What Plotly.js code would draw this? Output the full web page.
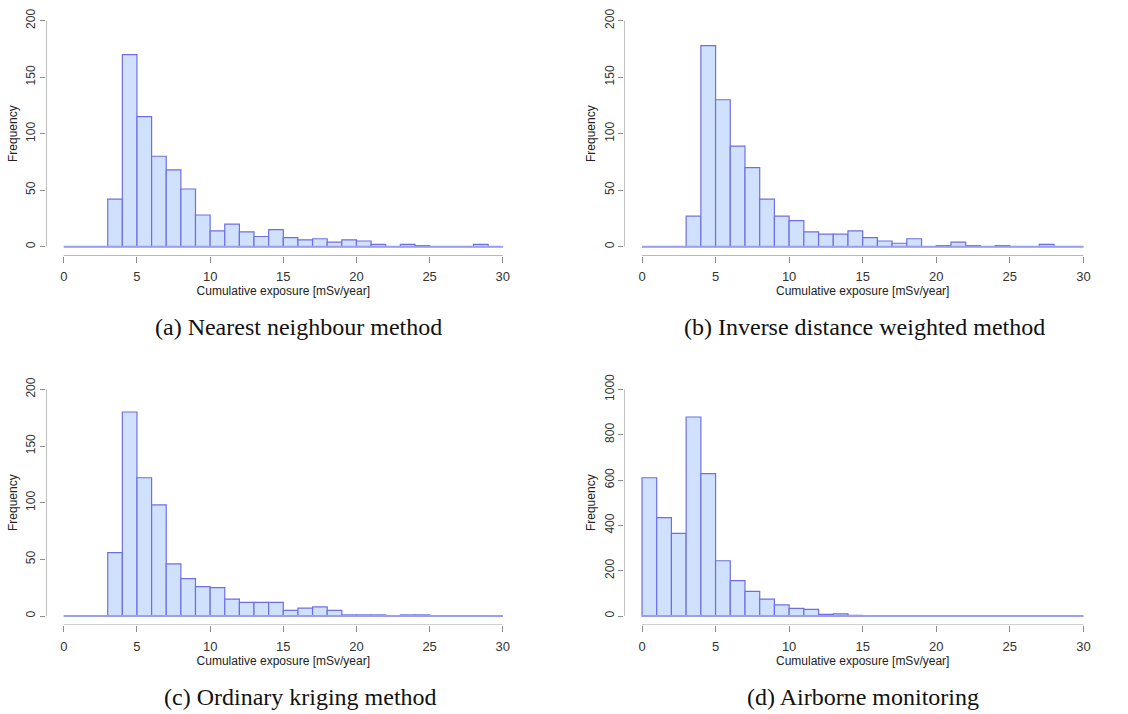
<!DOCTYPE html>
<html>
<head>
<meta charset="utf-8">
<script src="https://cdn.plot.ly/plotly-3.0.1.min.js"></script>
<style>html,body{margin:0;padding:0;background:#fff;}#chart{width:1128px;height:714px;}</style>
</head>
<body>
<div id="chart"></div>
<script>
// Bin edges (mSv/year) shared by all four histograms
const binEdges = [0,1,2,3,4,5,6,7,8,9,10,11,12,13,14,15,16,17,18,19,20,21,22,23,24,25,26,27,28,29,30];

// Frequencies per bin
const countsNearest  = [0,0,0,42,170,115,80,68,51,28,14,20,13,9,15,8,6,7,4,6,5,2,0,2,1,0,0,0,2,0];
const countsIDW      = [0,0,0,27,178,130,89,70,42,27,23,13,11,11,14,8,5,3,7,0,1,4,1,0,1,0,0,2,0,0];
const countsKriging  = [0,0,0,56,180,122,98,46,33,26,25,15,12,12,12,5,7,8,5,1,1,1,0,1,1,0,0,0,0,0];
const countsAirborne = [610,434,365,878,628,244,156,109,75,49,34,29,7,10,3,0,0,0,0,0,0,0,0,0,0,0,0,0,0,0];

const captions = [
  "(a) Nearest neighbour method",
  "(b) Inverse distance weighted method",
  "(c) Ordinary kriging method",
  "(d) Airborne monitoring"
];

const xTicks = [0,5,10,15,20,25,30];
const yTicksSmall = [0,50,100,150,200];
const yTicksLarge = [0,200,400,600,800,1000];

const xTitle = "Cumulative exposure [mSv/year]";
const yTitle = "Frequency";

// ---- styling / layout ----
const fillColor = "#cfe1fd";
const edgeColor = "#6f6fe2";
const baseColor = "#9a9ff0";
const axisColor = "#8c8c8c";
const textColor = "#333333";
const sansFont = "Liberation Sans, Arial, sans-serif";
const serifFont = "Liberation Serif, Times New Roman, serif";

const panels = [
  {counts: countsNearest,  yTicks: yTicksSmall, xd: [0.0410, 0.4613], yd: [0.6419, 0.9837], cap: [0.2642, 0.5420]},
  {counts: countsIDW,      yTicks: yTicksSmall, xd: [0.5535, 0.9761], yd: [0.6419, 0.9837], cap: [0.7660, 0.5420]},
  {counts: countsKriging,  yTicks: yTicksSmall, xd: [0.0410, 0.4613], yd: [0.1245, 0.4674], cap: [0.2660, 0.0238]},
  {counts: countsAirborne, yTicks: yTicksLarge, xd: [0.5535, 0.9761], yd: [0.1245, 0.4674], cap: [0.7650, 0.0238]}
];

const mids = binEdges.slice(0, -1).map((e, i) => (e + binEdges[i + 1]) / 2);
const widths = binEdges.slice(0, -1).map((e, i) => binEdges[i + 1] - e);

const traces = [];
const layout = {
  width: 1128, height: 714,
  margin: {l: 0, r: 0, t: 0, b: 0},
  paper_bgcolor: "#ffffff", plot_bgcolor: "#ffffff",
  showlegend: false,
  font: {family: sansFont, color: textColor, size: 12},
  annotations: [], shapes: []
};

panels.forEach((p, k) => {
  const sfx = k === 0 ? "" : String(k + 1);
  const xa = "x" + sfx, ya = "y" + sfx;
  const xmin = binEdges[0], xmax = binEdges[binEdges.length - 1];
  const ymax = p.yTicks[p.yTicks.length - 1];
  const xpad = (xmax - xmin) * 0.04, ypad = ymax * 0.04;

  // baseline for empty bins (R draws zero-height bars as a line)
  traces.push({
    type: "scatter", mode: "lines", xaxis: xa, yaxis: ya,
    x: [xmin, xmax], y: [0, 0],
    line: {color: baseColor, width: 2}, hoverinfo: "skip"
  });
  traces.push({
    type: "bar", xaxis: xa, yaxis: ya,
    x: mids, y: p.counts, width: widths,
    marker: {color: fillColor, line: {color: edgeColor, width: 1.2}}
  });

  layout["xaxis" + sfx] = {
    domain: p.xd, anchor: ya, range: [xmin - xpad, xmax + xpad],
    tickmode: "array", tickvals: xTicks, ticktext: xTicks.map(String),
    ticks: "outside", ticklen: 6, tickcolor: axisColor, tickwidth: 1, ticklabelstandoff: 3,
    showgrid: false, zeroline: false, showline: false,
    tickfont: {family: sansFont, size: 13, color: textColor},
    title: {text: xTitle, font: {family: sansFont, size: 12, color: "#222"}, standoff: 3},
    fixedrange: true
  };
  layout["yaxis" + sfx] = {
    domain: p.yd, anchor: xa, range: [-ypad, ymax + ypad],
    tickmode: "array", tickvals: p.yTicks, ticktext: p.yTicks.map(String),
    ticks: "outside", ticklen: 5, tickcolor: axisColor, tickwidth: 1, tickangle: -90,
    showgrid: false, zeroline: false, showline: false,
    tickfont: {family: sansFont, size: 12, color: textColor},
    title: {text: yTitle, font: {family: sansFont, size: 12, color: "#222"}, standoff: 4},
    fixedrange: true
  };

  // R-style axis lines spanning only the tick range
  layout.shapes.push({type: "line", xref: xa, yref: ya, x0: xTicks[0], x1: xTicks[xTicks.length - 1], y0: -ypad, y1: -ypad, line: {color: axisColor, width: 1}});
  layout.shapes.push({type: "line", xref: xa, yref: ya, x0: xmin - xpad, x1: xmin - xpad, y0: p.yTicks[0], y1: ymax, line: {color: axisColor, width: 1}});

  layout.annotations.push({
    xref: "paper", yref: "paper", x: p.cap[0], y: p.cap[1], xanchor: "center", yanchor: "middle",
    text: captions[k], showarrow: false, font: {family: serifFont, size: 24, color: "#111"}
  });
});

Plotly.newPlot("chart", traces, layout, {displayModeBar: false, staticPlot: true});
</script>
</body>
</html>
